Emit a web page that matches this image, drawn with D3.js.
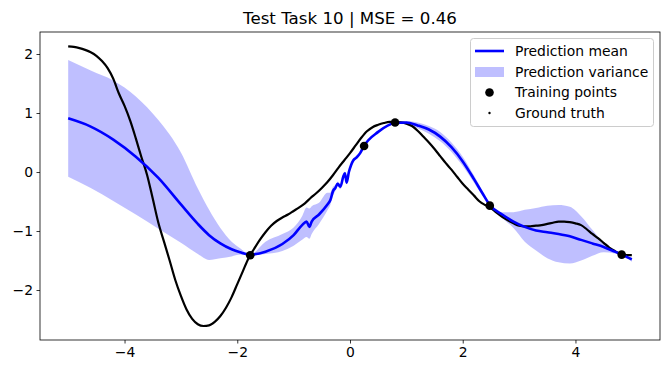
<!DOCTYPE html>
<html><head><meta charset="utf-8">
<script src="https://cdn.jsdelivr.net/npm/d3@7"></script>
<style>body{margin:0;background:#fff}svg{display:block}text{font-family:"DejaVu Sans",sans-serif}</style>
</head><body><svg id="c" width="670" height="374"></svg>
<script>
const title = "Test Task 10 | MSE = 0.46";
const xTicks = [-4, -2, 0, 2, 4];
const yTicks = [-2, -1, 0, 1, 2];
const legendLabels = ["Prediction mean", "Prediction variance", "Training points", "Ground truth"];

const predX = [-5.0,-4.6,-4.2,-3.8,-3.4,-3.0,-2.7,-2.5,-2.3,-2.1,-1.95,-1.77,-1.5,-1.2,-1.0,-0.85,-0.77,-0.72,-0.68,-0.55,-0.4,-0.35,-0.3,-0.26,-0.22,-0.17,-0.12,-0.09,-0.06,-0.02,0.02,0.06,0.12,0.18,0.24,0.5,0.8,1.0,1.2,1.4,1.6,1.8,2.0,2.2,2.35,2.48,2.7,2.9,3.1,3.3,3.5,3.7,3.9,4.1,4.3,4.5,4.7,4.82,5.0];
const predMean = [0.91,0.77,0.55,0.26,-0.10,-0.55,-0.88,-1.07,-1.21,-1.31,-1.36,-1.40,-1.35,-1.22,-1.07,-0.90,-0.84,-0.93,-0.84,-0.72,-0.55,-0.48,-0.32,-0.27,-0.20,-0.25,-0.08,-0.02,-0.18,0.00,0.12,0.20,0.25,0.32,0.43,0.68,0.83,0.84,0.79,0.72,0.60,0.42,0.18,-0.12,-0.36,-0.56,-0.72,-0.84,-0.93,-0.99,-1.02,-1.05,-1.09,-1.15,-1.21,-1.27,-1.35,-1.40,-1.48];
const predUpper = [1.90,1.72,1.55,1.28,0.88,0.33,-0.28,-0.64,-0.95,-1.18,-1.29,-1.40,-1.18,-1.05,-0.94,-0.75,-0.60,-0.62,-0.58,-0.52,-0.35,-0.35,-0.25,-0.22,-0.16,-0.20,-0.05,0.01,-0.15,0.03,0.14,0.22,0.27,0.34,0.44,0.69,0.84,0.86,0.84,0.78,0.68,0.50,0.26,-0.06,-0.32,-0.56,-0.68,-0.68,-0.64,-0.61,-0.57,-0.56,-0.59,-0.75,-0.98,-1.20,-1.33,-1.40,-1.45];
const predLower = [-0.08,-0.27,-0.49,-0.72,-0.96,-1.20,-1.39,-1.49,-1.46,-1.43,-1.40,-1.41,-1.39,-1.34,-1.25,-1.15,-1.10,-1.13,-1.05,-0.88,-0.65,-0.56,-0.40,-0.32,-0.24,-0.29,-0.12,-0.06,-0.21,-0.03,0.10,0.18,0.23,0.30,0.42,0.67,0.82,0.81,0.74,0.65,0.52,0.34,0.10,-0.18,-0.40,-0.57,-0.78,-0.95,-1.18,-1.33,-1.46,-1.53,-1.55,-1.50,-1.42,-1.36,-1.38,-1.41,-1.52];

const trainX = [-1.77, 0.25, 0.80, 2.48, 4.82];
const trainY = [-1.41, 0.44, 0.84, -0.57, -1.40];

const truthX = [-5.0,-4.9,-4.8,-4.7,-4.6,-4.5,-4.4,-4.3,-4.2,-4.1,-4.0,-3.9,-3.8,-3.7,-3.6,-3.5,-3.4,-3.3,-3.2,-3.1,-3.0,-2.9,-2.8,-2.7,-2.6,-2.5,-2.4,-2.3,-2.2,-2.1,-2.0,-1.9,-1.8,-1.7,-1.6,-1.5,-1.4,-1.3,-1.2,-1.1,-1.0,-0.9,-0.8,-0.7,-0.6,-0.5,-0.4,-0.3,-0.2,-0.1,0.0,0.1,0.2,0.3,0.4,0.5,0.6,0.7,0.8,0.9,1.0,1.1,1.2,1.3,1.4,1.5,1.6,1.7,1.8,1.9,2.0,2.1,2.2,2.3,2.4,2.5,2.6,2.7,2.8,2.9,3.0,3.1,3.2,3.3,3.4,3.5,3.6,3.7,3.8,3.9,4.0,4.1,4.2,4.3,4.4,4.5,4.6,4.7,4.8,4.9,5.0];
const truthY = [2.13,2.12,2.10,2.07,2.03,1.97,1.88,1.76,1.58,1.33,1.12,0.87,0.57,0.25,-0.05,-0.45,-0.86,-1.18,-1.50,-1.83,-2.10,-2.33,-2.49,-2.58,-2.61,-2.60,-2.54,-2.44,-2.30,-2.12,-1.90,-1.68,-1.46,-1.30,-1.15,-1.02,-0.91,-0.83,-0.77,-0.72,-0.66,-0.60,-0.53,-0.44,-0.36,-0.27,-0.17,-0.05,0.08,0.20,0.32,0.45,0.58,0.69,0.76,0.80,0.83,0.85,0.85,0.84,0.82,0.78,0.70,0.60,0.50,0.39,0.27,0.15,0.04,-0.08,-0.20,-0.30,-0.40,-0.50,-0.56,-0.61,-0.69,-0.76,-0.82,-0.87,-0.91,-0.92,-0.92,-0.91,-0.90,-0.88,-0.86,-0.84,-0.84,-0.85,-0.87,-0.90,-0.97,-1.05,-1.12,-1.20,-1.28,-1.34,-1.39,-1.41,-1.41];

const svg = d3.select("#c");
const L = 40, R = 660, T = 32, B = 340;
const x = d3.scaleLinear().domain([-5.5, 5.5]).range([L, R]);
const y = d3.scaleLinear().domain([-2.847, 2.373]).range([B, T]);
const fmt = d => (d < 0 ? "\u2212" + Math.abs(d) : String(d));

const g = svg.append("g");
const clip = svg.append("clipPath").attr("id", "cl").append("rect").attr("x", L).attr("y", T).attr("width", R - L).attr("height", B - T);
const plot = g.append("g").attr("clip-path", "url(#cl)");

const pred = predX.map((v, i) => ({x: v, m: predMean[i], u: predUpper[i], l: predLower[i]}));
plot.append("path").datum(pred)
  .attr("d", d3.area().x(d => x(d.x)).y0(d => y(d.l)).y1(d => y(d.u)).curve(d3.curveMonotoneX))
  .attr("fill", "#0000ff").attr("fill-opacity", 0.25);

const truth = truthX.map((v, i) => ({x: v, y: truthY[i]}));
plot.append("path").datum(truth)
  .attr("d", d3.line().x(d => x(d.x)).y(d => y(d.y)).curve(d3.curveMonotoneX))
  .attr("fill", "none").attr("stroke", "#000").attr("stroke-width", 2.2);

plot.append("path").datum(pred)
  .attr("d", d3.line().x(d => x(d.x)).y(d => y(d.m)).curve(d3.curveMonotoneX))
  .attr("fill", "none").attr("stroke", "#0000ff").attr("stroke-width", 2.6).attr("stroke-linejoin", "round");

plot.selectAll("circle.tr").data(trainX.map((v, i) => ({x: v, y: trainY[i]}))).join("circle")
  .attr("class", "tr").attr("cx", d => x(d.x)).attr("cy", d => y(d.y)).attr("r", 4.3).attr("fill", "#000");

// axes
const xa = g.append("g").attr("transform", `translate(0,${B})`)
  .call(d3.axisBottom(x).tickValues(xTicks).tickFormat(fmt).tickSize(3.5).tickPadding(3.5));
const ya = g.append("g").attr("transform", `translate(${L},0)`)
  .call(d3.axisLeft(y).tickValues(yTicks).tickFormat(fmt).tickSize(3.5).tickPadding(3.5));
[xa, ya].forEach(a => {
  a.select(".domain").remove();
  a.selectAll("line").attr("stroke", "#000").attr("stroke-width", 0.8);
  a.selectAll("text").attr("fill", "#000").style("font-size", "13.9px").style("font-family", "DejaVu Sans");
});
g.append("rect").attr("x", L).attr("y", T).attr("width", R - L).attr("height", B - T)
  .attr("fill", "none").attr("stroke", "#000").attr("stroke-width", 0.8);

svg.append("text").attr("x", (L + R) / 2).attr("y", 24).attr("text-anchor", "middle")
  .style("font-size", "16.67px").text(title);

// legend
const lg = svg.append("g");
lg.append("rect").attr("x", 470.5).attr("y", 38.5).attr("width", 183).attr("height", 88).attr("rx", 3)
  .attr("fill", "#fff").attr("fill-opacity", 0.8).attr("stroke", "#ccc").attr("stroke-width", 1);
const ly = [51, 72, 92.5, 113];
lg.append("line").attr("x1", 475).attr("x2", 504).attr("y1", ly[0]).attr("y2", ly[0]).attr("stroke", "#0000ff").attr("stroke-width", 2.6);
lg.append("rect").attr("x", 475).attr("y", ly[1] - 5).attr("width", 29).attr("height", 10).attr("fill", "#0000ff").attr("fill-opacity", 0.25);
lg.append("circle").attr("cx", 489.5).attr("cy", ly[2]).attr("r", 4.3).attr("fill", "#000");
lg.append("circle").attr("cx", 489.5).attr("cy", ly[3]).attr("r", 1.2).attr("fill", "#000");
lg.selectAll("text.l").data(legendLabels).join("text").attr("class", "l")
  .attr("x", 515).attr("y", (d, i) => ly[i]).attr("dy", "0.35em").style("font-size", "13.9px").text(d => d);
</script></body></html>
